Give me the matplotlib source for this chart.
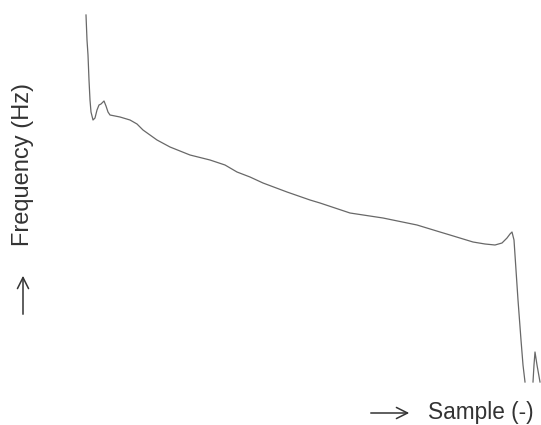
import matplotlib
matplotlib.use('Agg')
import matplotlib.pyplot as plt

# curve (sample index, relative frequency)
sample = [6, 7, 8, 9, 10, 11, 13, 15, 17, 19, 21, 24, 26, 28, 30, 40, 50, 57,
          63, 70, 77, 90, 100, 110, 130, 145, 157, 170, 183, 207, 230, 240,
          270, 303, 337, 360, 370, 393, 405, 415, 422, 427, 430, 432, 434,
          436, 438, 441, 443, 445]
freq = [385, 360, 345, 320, 300, 288, 280, 282, 290, 295, 296, 299, 294, 288,
        285, 283, 280, 276, 270, 265, 260, 253, 249, 245, 240, 235, 228, 223,
        217, 208, 200, 197, 187, 182, 175, 168, 165, 158, 156, 155, 157, 162,
        166, 168, 160, 130, 100, 60, 35, 18]

# small second lobe at the end
tail_sample = [453, 454, 455, 457, 460]
tail_freq = [18, 35, 48, 35, 18]

W, H = 541, 425

fig = plt.figure(figsize=(5.41, 4.25), dpi=100)
ax = fig.add_axes([0, 0, 1, 1])
ax.plot(sample, freq, color='#686868', linewidth=0.9)
ax.plot(tail_sample, tail_freq, color='#686868', linewidth=0.9)
ax.set_xlim(-80, 461)
ax.set_ylim(-25, 400)
ax.axis('off')

txt = '#333333'
fig.text(23 / W, 1 - 165 / H, 'Frequency (Hz)', rotation=90, ha='center',
         va='center', fontsize=17, family='Liberation Sans', color=txt)
fig.text(428 / W, 1 - 412 / H, 'Sample (-)', ha='left', va='center',
         fontsize=16.3, family='Liberation Sans', color=txt)

# axis direction arrows
arrow = dict(arrowstyle='->', color=txt, lw=1.1, mutation_scale=20)
ax.annotate('', xy=(23 / W, 1 - 273 / H), xytext=(23 / W, 1 - 317 / H),
            xycoords='figure fraction', textcoords='figure fraction',
            arrowprops=arrow)
ax.annotate('', xy=(412 / W, 1 - 413 / H), xytext=(368 / W, 1 - 413 / H),
            xycoords='figure fraction', textcoords='figure fraction',
            arrowprops=arrow)

fig.savefig('out.png', dpi=100)
